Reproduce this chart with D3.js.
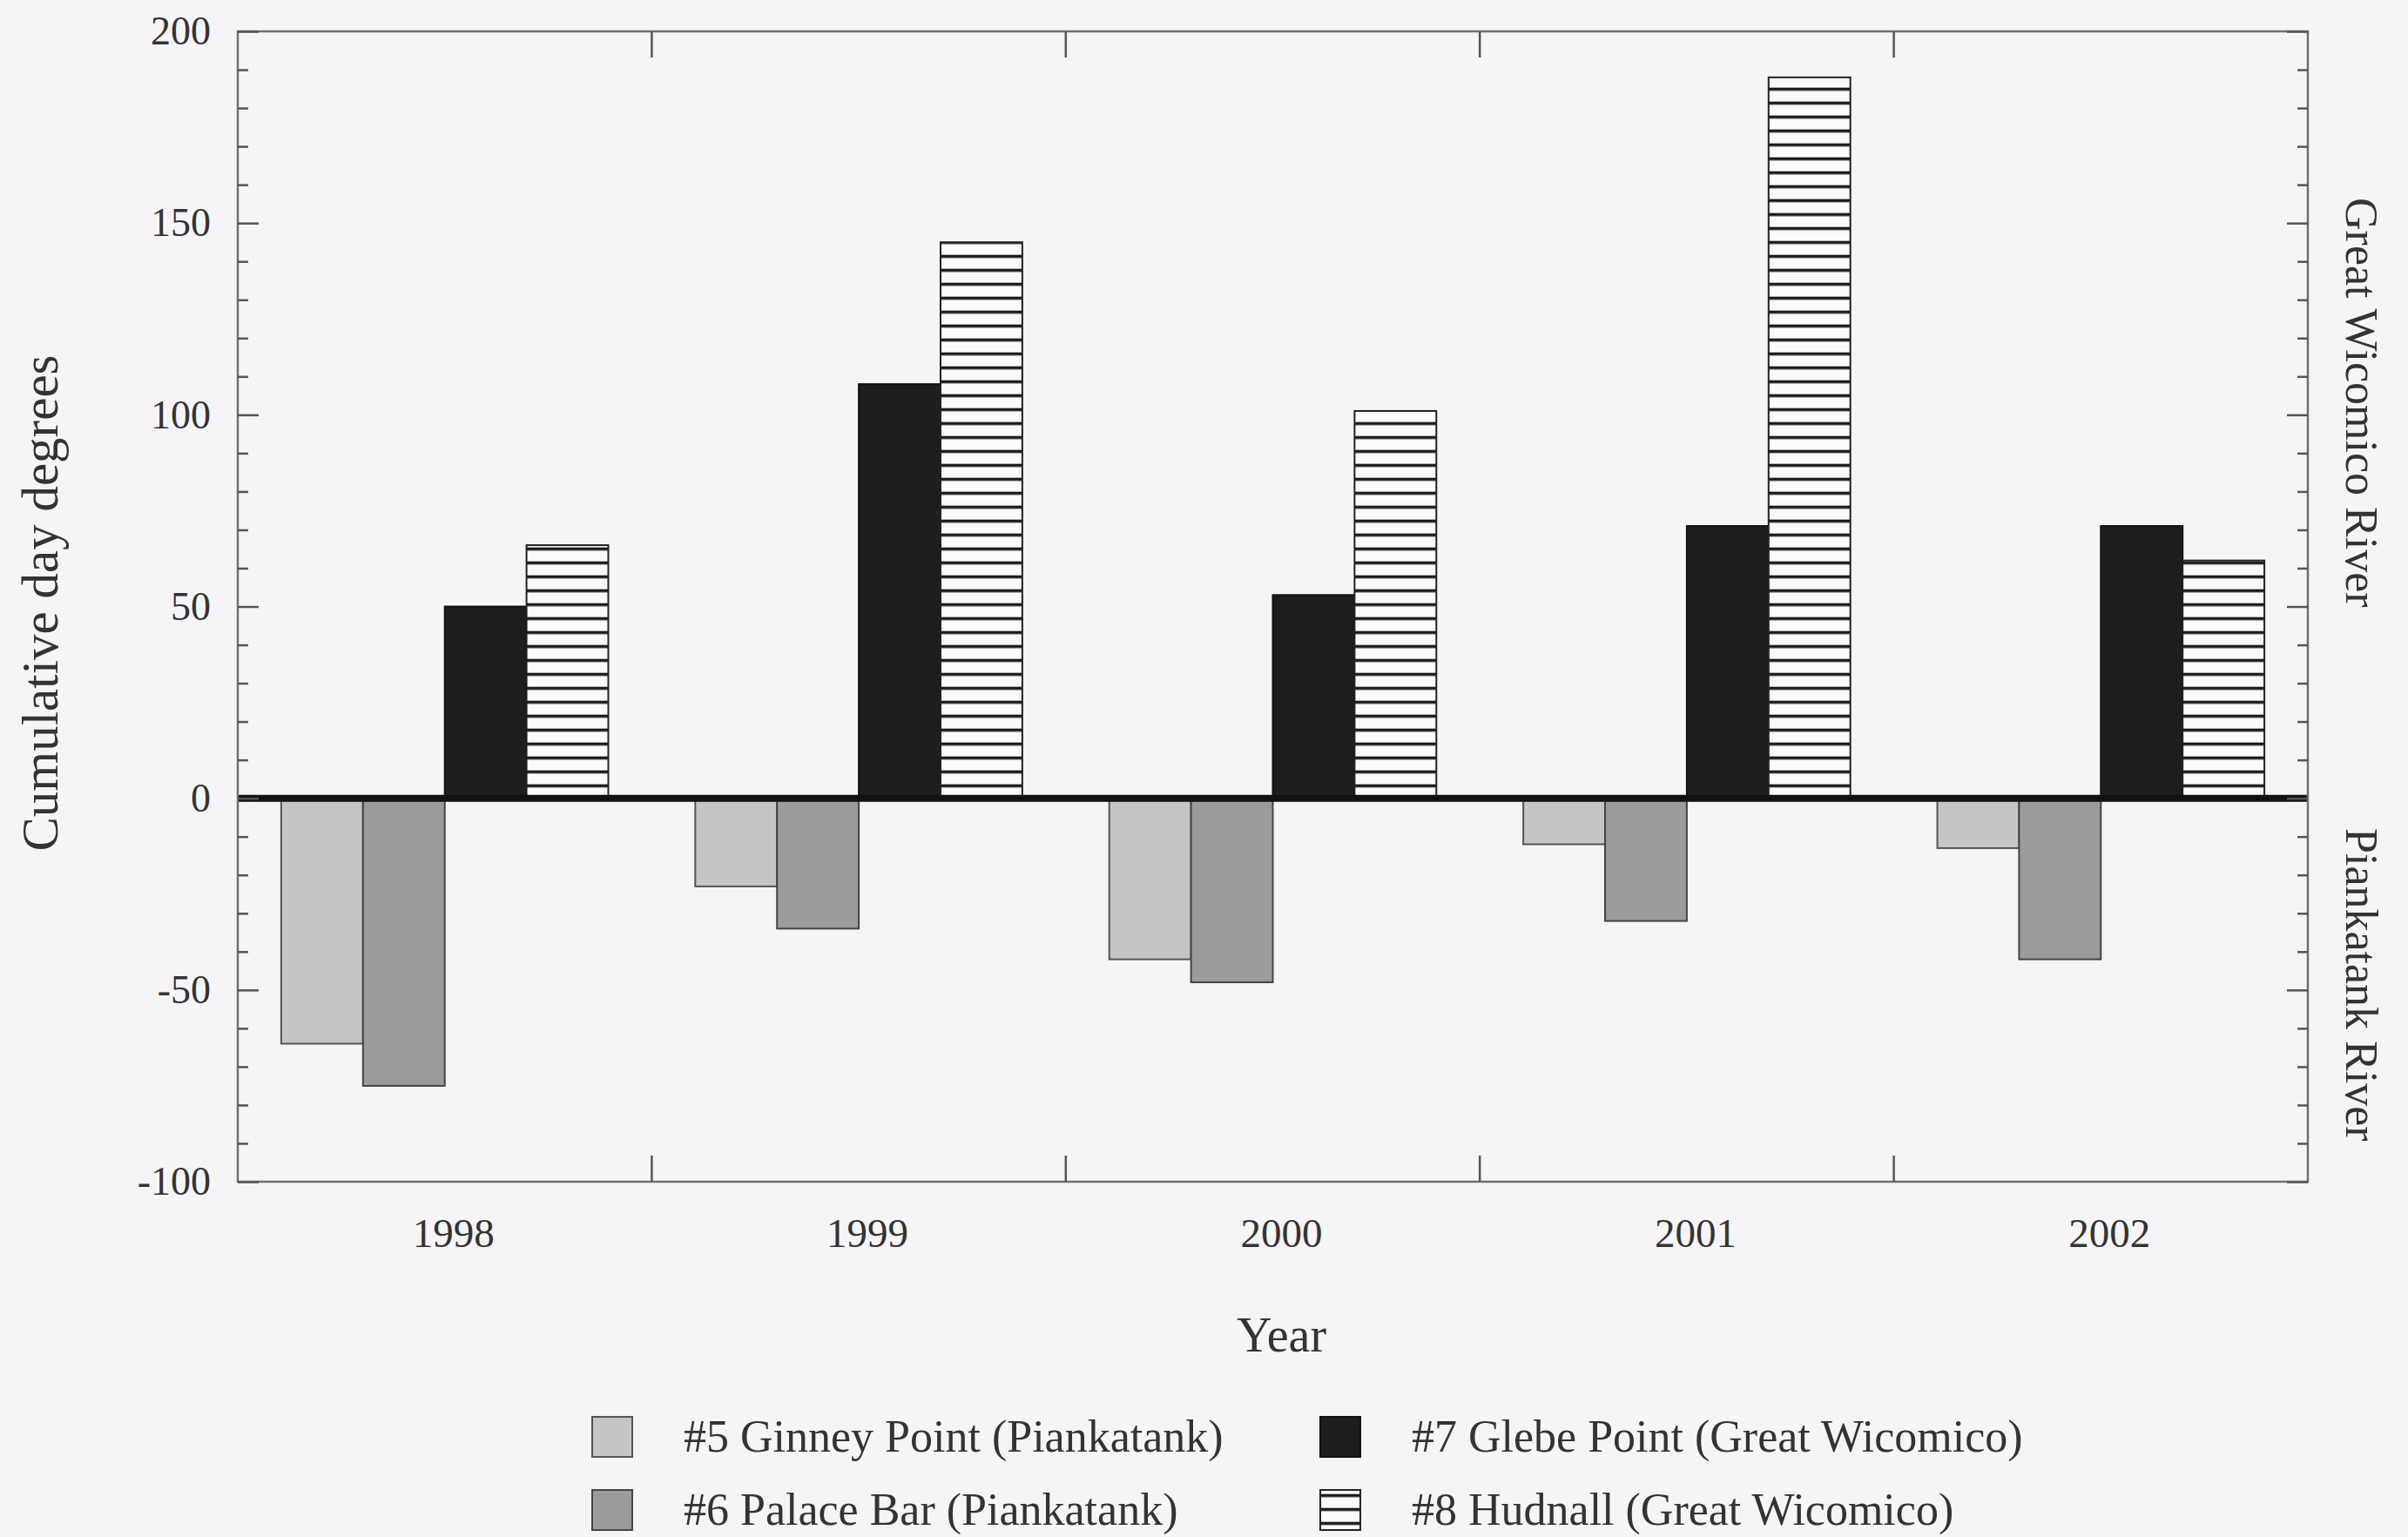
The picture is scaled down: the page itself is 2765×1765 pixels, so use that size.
<!DOCTYPE html>
<html>
<head>
<meta charset="utf-8">
<script src="https://cdn.jsdelivr.net/npm/d3@7"></script>
<style>
  html, body { margin: 0; padding: 0; background: #f6f4f7; }
  svg { display: block; }
  text { font-family: "Liberation Serif", "Times New Roman", serif; fill: #333; }
</style>
</head>
<body>
<div id="chart"></div>
<script>
// data
const years = ['1998', '1999', '2000', '2001', '2002'];
const ginneyPoint = [-64, -23, -42, -12, -13];
const palaceBar = [-75, -34, -48, -32, -42];
const glebePoint = [50, 108, 53, 71, 71];
const hudnall = [66, 145, 101, 188, 62];

const seriesNames = [
    '#5 Ginney Point (Piankatank)',
    '#6 Palace Bar (Piankatank)',
    '#7 Glebe Point (Great Wicomico)',
    '#8 Hudnall (Great Wicomico)'
];
const yMajorTicks = [-100, -50, 0, 50, 100, 150, 200];

const width = 2765;
const height = 1765;
const plot = { left: 273, right: 2650, top: 36, bottom: 1357 };

const series = [
    { name: seriesNames[0], values: ginneyPoint, fill: '#c5c4c6', stroke: '#555' },
    { name: seriesNames[1], values: palaceBar, fill: '#9b9a9c', stroke: '#444' },
    { name: seriesNames[2], values: glebePoint, fill: '#1e1d1f', stroke: '#111' },
    { name: seriesNames[3], values: hudnall, fill: 'url(#hatch)', stroke: '#222' }
];

const svg = d3.select('#chart').append('svg')
    .attr('width', width)
    .attr('height', height);

svg.append('rect')
    .attr('width', width)
    .attr('height', height)
    .attr('fill', '#f6f4f7');

const x = d3.scaleBand()
    .domain(years)
    .range([plot.left, plot.right])
    .paddingInner(0.21)
    .paddingOuter(0.105);

const xSeries = d3.scaleBand()
    .domain(d3.range(series.length))
    .range([0, x.bandwidth()]);

const y = d3.scaleLinear()
    .domain([-100, 200])
    .range([plot.bottom, plot.top]);

// horizontal hatch, anchored on the zero line
const defs = svg.append('defs');
const hatch = defs.append('pattern')
    .attr('id', 'hatch')
    .attr('patternUnits', 'userSpaceOnUse')
    .attr('width', 20)
    .attr('height', 16)
    .attr('patternTransform', `translate(0,${y(0)})`);
hatch.append('rect').attr('width', 20).attr('height', 16).attr('fill', '#fbfafb');
hatch.append('line')
    .attr('x1', 0).attr('x2', 20)
    .attr('y1', 1.5).attr('y2', 1.5)
    .attr('stroke', '#1a1a1a')
    .attr('stroke-width', 4);

// bars
const groups = svg.append('g')
    .selectAll('g')
    .data(years)
    .join('g')
    .attr('transform', d => `translate(${x(d)},0)`);

groups.selectAll('rect')
    .data((yr, i) => series.map((s, k) => ({ k, s, v: s.values[i] })))
    .join('rect')
    .attr('x', d => xSeries(d.k))
    .attr('width', xSeries.bandwidth())
    .attr('y', d => y(Math.max(0, d.v)))
    .attr('height', d => Math.abs(y(d.v) - y(0)))
    .attr('fill', d => d.s.fill)
    .attr('stroke', d => d.s.stroke)
    .attr('stroke-width', 2);

// zero line
svg.append('line')
    .attr('x1', plot.left).attr('x2', plot.right)
    .attr('y1', y(0)).attr('y2', y(0))
    .attr('stroke', '#111')
    .attr('stroke-width', 8);

// frame
svg.append('rect')
    .attr('x', plot.left)
    .attr('y', plot.top)
    .attr('width', plot.right - plot.left)
    .attr('height', plot.bottom - plot.top)
    .attr('fill', 'none')
    .attr('stroke', '#707070')
    .attr('stroke-width', 2.5);

const minorTicks = d3.range(-100, 201, 10).filter(v => v % 50 !== 0);

function styleAxis(g) {
    g.select('.domain').remove();
    g.selectAll('line').attr('stroke', '#555').attr('stroke-width', 2.5);
}

// left axis
svg.append('g')
    .attr('transform', `translate(${plot.left},0)`)
    .call(d3.axisLeft(y).tickValues(yMajorTicks).tickSizeInner(-24).tickSizeOuter(0)
        .tickPadding(31).tickFormat(d => String(d)))
    .call(styleAxis)
    .call(g => g.selectAll('text')
        .attr('font-size', 46)
        .attr('font-family', '"Liberation Serif", serif')
        .attr('fill', '#333'));

svg.append('g')
    .attr('transform', `translate(${plot.left},0)`)
    .call(d3.axisLeft(y).tickValues(minorTicks).tickSizeInner(-12).tickSizeOuter(0).tickFormat(''))
    .call(styleAxis);

// right axis (ticks only)
svg.append('g')
    .attr('transform', `translate(${plot.right},0)`)
    .call(d3.axisRight(y).tickValues(yMajorTicks).tickSizeInner(-24).tickSizeOuter(0).tickFormat(''))
    .call(styleAxis);

svg.append('g')
    .attr('transform', `translate(${plot.right},0)`)
    .call(d3.axisRight(y).tickValues(minorTicks).tickSizeInner(-12).tickSizeOuter(0).tickFormat(''))
    .call(styleAxis);

// group separator ticks on top and bottom
const separators = years.slice(1).map(yr => x(yr) - (x.step() - x.bandwidth()) / 2);
['top', 'bottom'].forEach(side => {
    const y0 = side === 'top' ? plot.top : plot.bottom;
    const dir = side === 'top' ? 1 : -1;
    svg.append('g')
        .selectAll('line')
        .data(separators)
        .join('line')
        .attr('x1', d => d).attr('x2', d => d)
        .attr('y1', y0).attr('y2', y0 + dir * 30)
        .attr('stroke', '#555')
        .attr('stroke-width', 2.5);
});

// year labels
svg.append('g')
    .selectAll('text')
    .data(years)
    .join('text')
    .attr('x', d => x(d) + x.bandwidth() / 2 + 10)
    .attr('y', 1432)
    .attr('text-anchor', 'middle')
    .attr('font-size', 47)
    .text(d => d);

// axis titles
svg.append('text')
    .attr('x', (plot.left + plot.right) / 2 + 10)
    .attr('y', 1552)
    .attr('text-anchor', 'middle')
    .attr('font-size', 56)
    .text('Year');

svg.append('text')
    .attr('transform', `translate(66,${(plot.top + plot.bottom) / 2 - 4}) rotate(-90)`)
    .attr('text-anchor', 'middle')
    .attr('font-size', 59)
    .text('Cumulative day degrees');

// river labels on the right
const riverLabels = [
    { text: 'Great Wicomico River', cy: (y(200) + y(0)) / 2 - 14 },
    { text: 'Piankatank River', cy: (y(0) + y(-100)) / 2 - 6 }
];
svg.append('g')
    .selectAll('text')
    .data(riverLabels)
    .join('text')
    .attr('transform', d => `translate(2694,${d.cy}) rotate(90)`)
    .attr('text-anchor', 'middle')
    .attr('font-size', 52)
    .attr('fill', '#444')
    .text(d => d.text);

// legend
const legendCols = [680, 1516];
const legendRows = [1627, 1711];
const legend = svg.append('g')
    .selectAll('g')
    .data(series)
    .join('g')
    .attr('transform', (d, i) => `translate(${legendCols[Math.floor(i / 2)]},${legendRows[i % 2]})`);

legend.append('rect')
    .attr('width', 46)
    .attr('height', 46)
    .attr('fill', d => d.fill)
    .attr('stroke', d => d.stroke)
    .attr('stroke-width', 2);

legend.append('text')
    .attr('x', 105)
    .attr('y', 40)
    .attr('font-size', 52)
    .text(d => d.name);
</script>
</body>
</html>
